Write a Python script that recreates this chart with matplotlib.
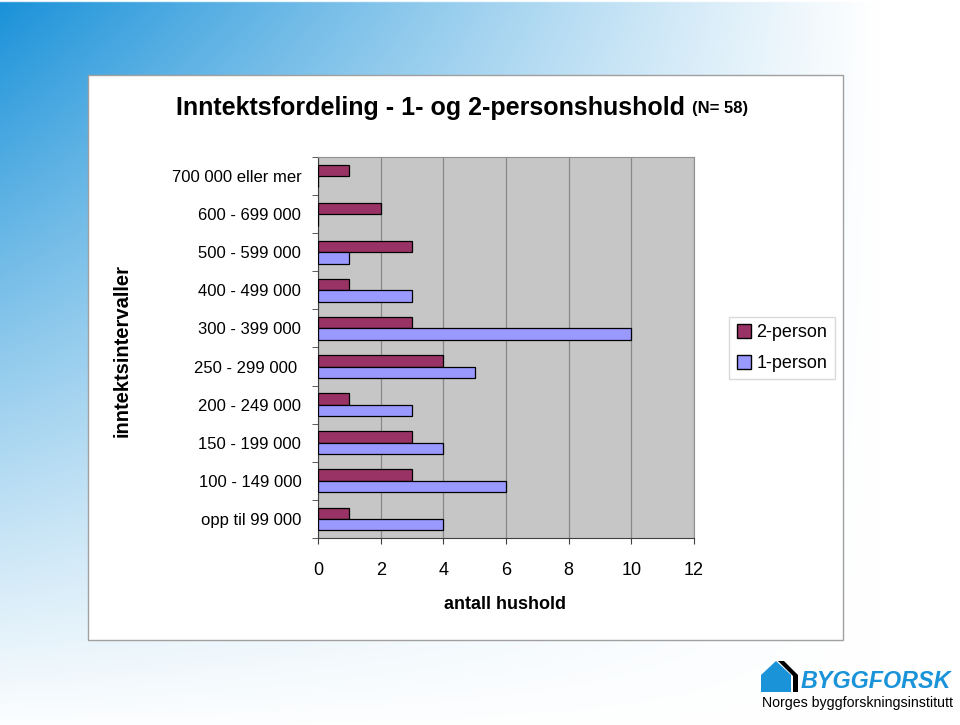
import numpy as np
import matplotlib
matplotlib.use("Agg")
import matplotlib.pyplot as plt
from matplotlib.patches import Rectangle, Polygon, Patch

# data (bottom to top)
kategorier = ["opp til 99 000", "100 - 149 000", "150 - 199 000", "200 - 249 000",
              "250 - 299 000 ", "300 - 399 000", "400 - 499 000", "500 - 599 000",
              "600 - 699 000", "700 000 eller mer"]
to_person = [1, 3, 3, 1, 4, 3, 1, 3, 2, 1]
en_person = [4, 6, 4, 3, 5, 10, 3, 1, 0, 0]
x_ticks = [0, 2, 4, 6, 8, 10, 12]

W, H = 960, 725
plt.rcParams['font.family'] = ['Liberation Sans', 'DejaVu Sans']

fig = plt.figure(figsize=(W / 100, H / 100), dpi=100)

def px(x, y):
    return (x / W, 1 - y / H)

# bakgrunn med blaa gradient
bg = fig.add_axes([0, 0, 1, 1], zorder=-10)
xx, yy = np.meshgrid(np.linspace(0, 1, 480), np.linspace(0, 1, 363))
w = np.clip(1 - xx * W / 880, 0, 1) ** 1.1 * np.clip(1 - yy * H / 740, 0, 1) ** 1.1
blue = np.array([0.10, 0.57, 0.85])
img = (1 - w[..., None]) * 1.0 + w[..., None] * blue
img[:int(3 / H * 363), :, :] = 1.0
bg.imshow(img, aspect="auto", extent=[0, 1, 0, 1], origin="upper")
bg.axis("off")

# hvitt panel
fig.patches.append(Rectangle(px(88, 640), 755 / W, 565 / H, transform=fig.transFigure,
                             facecolor="white", edgecolor="#a0a0a0", lw=1, zorder=-5))

ax = fig.add_axes([318 / W, 1 - 538 / H, 376 / W, 381 / H])
ax.set_facecolor("#c6c6c6")
y = np.arange(len(kategorier))
h = 0.3
ax.barh(y + h / 2, to_person, height=h, color="#993366", edgecolor="black", lw=0.9,
        label="2-person", zorder=3)
ax.barh(y - h / 2, en_person, height=h, color="#9999ff", edgecolor="black", lw=0.9,
        label="1-person", zorder=3)

ax.set_xlim(0, 12)
ax.set_ylim(-0.5, len(kategorier) - 0.5)
ax.set_xticks(x_ticks)
ax.set_xticklabels([str(t) for t in x_ticks], fontsize=13)
ax.tick_params(axis="x", length=4, pad=13, color="#404040")
ax.grid(axis="x", color="#888888", lw=0.9, zorder=0)

ax.set_yticks(y)
ax.set_yticklabels(kategorier, fontsize=12)
ax.tick_params(axis="y", which="major", length=0, pad=12)
ax.set_yticks(np.arange(-0.5, len(kategorier), 1), minor=True)
ax.tick_params(axis="y", which="minor", length=4, color="#404040")

for s in ["left", "bottom"]:
    ax.spines[s].set_color("#404040")
for s in ["top", "right"]:
    ax.spines[s].set_color("#909090")

ax.set_ylabel("inntektsintervaller", fontsize=14.5, fontweight="bold")
ax.yaxis.set_label_coords(-0.495, 0.493)
ax.set_xlabel("antall hushold", fontsize=13, fontweight="bold")
ax.xaxis.set_label_coords(0.497, -0.152)

handles = [Patch(facecolor="#993366", edgecolor="black", label="2-person"),
           Patch(facecolor="#9999ff", edgecolor="black", label="1-person")]
fig.legend(handles=handles, loc="center", bbox_to_anchor=(782 / W, 1 - 348 / H),
           fontsize=13, frameon=True, fancybox=False, edgecolor="#d0d0d0",
           handlelength=0.8, handleheight=0.8, handletextpad=0.3, labelspacing=0.75,
           borderpad=0.4)

# tittel
t1 = fig.text(176 / W, 1 - 108 / H, "Inntektsfordeling - 1- og 2-personshushold",
              fontsize=18, fontweight="bold", va="center", ha="left")
fig.canvas.draw()
bb = t1.get_window_extent()
fig.text((bb.x1 + 7) / W, 1 - 109 / H, "(N= 58)", fontsize=12, fontweight="bold",
         va="center", ha="left")

# logo
hus = [(761, 692), (761, 675), (776, 661), (791, 675), (791, 692)]
fig.patches.append(Polygon([px(*p) for p in hus], closed=True, transform=fig.transFigure,
                           facecolor="#1a93d9", edgecolor="none"))
stripe = [(778, 661), (784, 661), (798, 675), (798, 692), (793, 692), (793, 676)]
fig.patches.append(Polygon([px(*p) for p in stripe], closed=True, transform=fig.transFigure,
                           facecolor="black", edgecolor="none"))
fig.text(*px(801, 682), "BYGGFORSK", fontsize=16.8, fontweight="heavy", color="#1a93d9",
         va="center", ha="left", style="italic")
fig.text(*px(762, 703), "Norges byggforskningsinstitutt", fontsize=10.2, va="center",
         ha="left")

fig.savefig("out.png", dpi=100)
